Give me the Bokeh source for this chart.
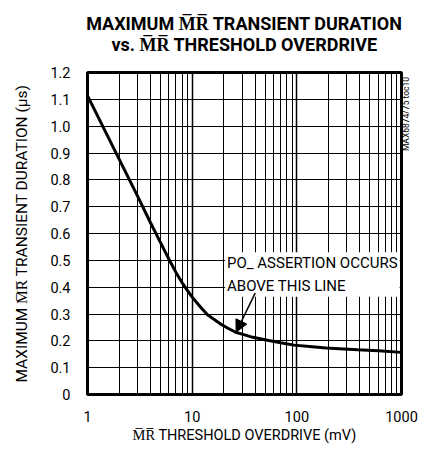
import math
from bokeh.plotting import figure
from bokeh.models import FixedTicker, Label, Arrow, NormalHead, LinearAxis
from bokeh.embed import file_html
from bokeh.resources import INLINE

# ---- data ----
overdrive_mv = [1, 2, 3, 4, 5, 6, 7, 8, 9, 10, 12, 14, 16, 19, 22, 26, 30, 38, 54, 70,
                94, 140, 191, 280, 383, 600, 1000]
duration_us = [1.114, 0.878, 0.740, 0.640, 0.565, 0.504, 0.455, 0.417, 0.388, 0.363, 0.326,
               0.297, 0.281, 0.261, 0.247, 0.232, 0.225, 0.213, 0.201, 0.193, 0.184, 0.178,
               0.173, 0.170, 0.167, 0.163, 0.157]

x_major_ticks = [1, 10, 100, 1000]
x_tick_labels = ["1", "10", "100", "1000"]
x_minor_ticks = [2, 3, 4, 5, 6, 7, 8, 9, 20, 30, 40, 50, 60, 70, 80, 90, 200, 300, 400, 500, 600, 700, 800, 900]
y_ticks = [0, 0.1, 0.2, 0.3, 0.4, 0.5, 0.6, 0.7, 0.8, 0.9, 1.0, 1.1, 1.2]
y_tick_labels = ["0", "0.1", "0.2", "0.3", "0.4", "0.5", "0.6", "0.7", "0.8", "0.9", "1.0", "1.1", "1.2"]

OL = "\u0305"
title_text = ("MAXIMUM M" + OL + "R" + OL + " TRANSIENT DURATION\n"
              "vs. M" + OL + "R" + OL + " THRESHOLD OVERDRIVE")
x_label = "M" + OL + "R" + OL + " THRESHOLD OVERDRIVE (mV)"
y_label = "MAXIMUM M" + OL + "R" + OL + " TRANSIENT DURATION (\u03bcs)"
note_text = "PO_ ASSERTION OCCURS\nABOVE THIS LINE"
watermark = "MAX6874/75 toc10"
wm_tick = 0.907   # y value where the vertical watermark starts

# annotation placement (data coordinates)
note_x, note_y = 20.6, 0.530
arrow_start = (40, 0.378)
arrow_end = (26.3, 0.232)

FONT = "Roboto"

p = figure(width=419, height=446, x_axis_type="log", x_range=(1, 1000), y_range=(0, 1.2),
           output_backend="svg", toolbar_location=None, title=None,
           min_border_left=87, min_border_right=10, min_border_top=72, min_border_bottom=46)

p.background_fill_color = "white"
p.border_fill_color = "white"
p.outline_line_color = "black"
p.outline_line_width = 3

bottom_axis = p.below[0]
left_axis = p.left[0]

xt = FixedTicker(ticks=x_major_ticks, minor_ticks=x_minor_ticks)
yt = FixedTicker(ticks=y_ticks)
bottom_axis.ticker = xt
p.xgrid.ticker = xt
left_axis.ticker = yt
p.ygrid.ticker = yt
bottom_axis.major_label_overrides = {t: l for t, l in zip(x_major_ticks, x_tick_labels)}
left_axis.major_label_overrides = {t: l for t, l in zip(y_ticks, y_tick_labels)}

# title drawn as the label of a tick-less top axis
top_axis = LinearAxis(ticker=FixedTicker(ticks=[]), axis_label=title_text)
p.add_layout(top_axis, "above")

# watermark drawn as the single tick label of a right axis, rotated
wm_axis = LinearAxis(ticker=FixedTicker(ticks=[wm_tick]), major_label_overrides={wm_tick: watermark},
                     major_label_orientation=math.pi / 2)
p.add_layout(wm_axis, "right")

for ax in (bottom_axis, left_axis, top_axis, wm_axis):
    ax.axis_line_color = None
    ax.major_tick_line_color = None
    ax.minor_tick_line_color = None
    ax.major_tick_out = 0
    ax.minor_tick_out = 0
    ax.major_label_text_font = FONT
    ax.major_label_text_color = "black"
    ax.axis_label_text_font = FONT
    ax.axis_label_text_color = "black"

top_axis.axis_label_text_font_size = "18px"
top_axis.axis_label_text_font_style = "bold"
top_axis.axis_label_text_line_height = 1.0
top_axis.axis_label_standoff = 18
top_axis.major_label_standoff = 0

wm_axis.major_label_text_font_size = "8.5px"
wm_axis.major_label_standoff = 5

for ax in (bottom_axis, left_axis):
    ax.major_label_text_font_size = "14.5px"
    ax.axis_label_text_font_size = "14.5px"
    ax.axis_label_text_font_style = "normal"

left_axis.axis_label_text_font_size = "15.5px"
bottom_axis.axis_label = x_label
left_axis.axis_label = y_label
bottom_axis.major_label_standoff = 16
bottom_axis.axis_label_standoff = 2
left_axis.major_label_standoff = 17
left_axis.axis_label_standoff = 16

p.xgrid.grid_line_color = "black"
p.xgrid.grid_line_width = 1.5
p.xgrid.minor_grid_line_color = "black"
p.xgrid.minor_grid_line_width = 1
p.ygrid.grid_line_color = "black"
p.ygrid.grid_line_width = 1

p.line(overdrive_mv, duration_us, line_color="black", line_width=3)

p.add_layout(Label(x=note_x, y=note_y, text=note_text, text_font=FONT, text_font_size="15px",
                   text_align="left", text_baseline="top", background_fill_color="white",
                   padding=2, text_color="black", text_line_height=1.25))
p.add_layout(Arrow(x_start=arrow_start[0], y_start=arrow_start[1], x_end=arrow_end[0], y_end=arrow_end[1],
                   line_color="black", line_width=1.5,
                   end=NormalHead(size=12, fill_color="black", line_color="black")))

open("out.html", "w").write(file_html(p, INLINE))
